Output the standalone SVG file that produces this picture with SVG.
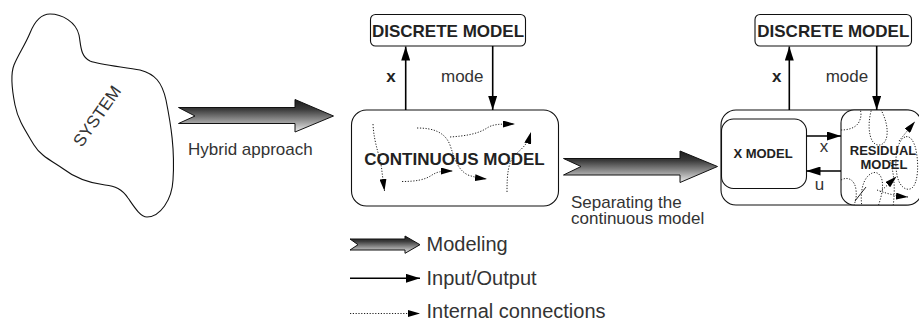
<svg xmlns="http://www.w3.org/2000/svg" width="919" height="322" viewBox="0 0 919 322">
  <style>
    .box { fill: #fff; stroke: #111; stroke-width: 1.1; }
    .lbl { font-family: "Liberation Sans", Arial, sans-serif; fill: #333; }
    .bold { font-family: "Liberation Sans", Arial, sans-serif; font-weight: bold; fill: #222; }
    .io { fill: none; stroke: #000; stroke-width: 1.6; }
    .dot { fill: none; stroke: #222; stroke-width: 1; stroke-dasharray: 1.2 1.6; }
    .fat { fill: url(#grey); stroke: #111; stroke-width: 1; }
  </style>
  <defs>
    <linearGradient id="grey" x1="0" y1="0" x2="0" y2="1">
      <stop offset="0" stop-color="#1c1c1c"/>
      <stop offset="0.3" stop-color="#3a3a3a"/>
      <stop offset="1" stop-color="#ececec"/>
    </linearGradient>
    <marker id="head" markerUnits="userSpaceOnUse" markerWidth="14" markerHeight="9" refX="14" refY="4.5" orient="auto">
      <path d="M0,0 L14,4.5 L0,9 Z" fill="#000"/>
    </marker>
    <marker id="dhead" markerUnits="userSpaceOnUse" markerWidth="12" markerHeight="7" refX="12" refY="3.5" orient="auto">
      <path d="M0,0 L12,3.5 L0,7 Z" fill="#000"/>
    </marker>
    <clipPath id="resClip">
      <rect x="841" y="110" width="80" height="95" rx="13"/>
    </clipPath>
  </defs>

  <!-- the system blob -->
  <g id="system">
    <path class="box" d="M50,14 C62,14 76,22 79,35 C81,45 80,56 90,61 C100,65 125,67 140,70 C155,74 162,82 166,100 C171,125 175,150 173,180 C172,200 160,217 147,217 C140,217 133,205 128,198 C122,189 115,186 105,185 C88,183 75,178 62,168 C50,160 40,155 34,145 C25,130 18,120 15,105 C12,90 10,75 14,65 C18,55 25,45 30,33 C34,23 40,14 50,14 Z"/>
    <text class="lbl" font-size="17" text-anchor="middle" transform="translate(97,116) rotate(-55)" y="6">SYSTEM</text>
  </g>

  <!-- modelling step: hybrid approach -->
  <g id="step-hybrid">
    <path class="fat" d="M178.5,107.5 L295,107.5 L295,99.5 L333.5,116 L295,132 L295,123.5 L178.5,123.5 L195,116 Z"/>
    <text class="lbl" x="188" y="155" font-size="17">Hybrid approach</text>
  </g>

  <g id="discrete-1">
    <rect class="box" x="370.5" y="14.5" width="155" height="31.5" rx="5"/>
    <text class="bold" x="448" y="36.5" font-size="17" text-anchor="middle">DISCRETE MODEL</text>
  </g>

  <g id="continuous">
    <rect class="box" x="351.5" y="110" width="207" height="96" rx="15"/>
    <text class="bold" x="454.5" y="165" font-size="17" text-anchor="middle">CONTINUOUS MODEL</text>
    <!-- internal connections -->
    <path class="dot" marker-end="url(#dhead)" d="M373,124 C374,145 381,158 382,172 L384.5,191"/>
    <path class="dot" marker-end="url(#dhead)" d="M402,181.5 C415,181.5 425,180 432,175 C437,172 440,171 453,171"/>
    <path class="dot" marker-end="url(#dhead)" d="M417,128 C433,128 445,132 450,145 C455,160 458,170 468,175 C474,177 478,178 487,179"/>
    <path class="dot" marker-end="url(#dhead)" d="M450,137 C465,136 478,134 487,128 C493,124 500,124 515,124"/>
    <path class="dot" marker-end="url(#dhead)" d="M507,192 C507,175 508,162 515,155 C522,148 527,146 531,132"/>
  </g>

  <!-- modelling step: separating the continuous model -->
  <g id="step-separate">
    <path class="fat" d="M563.5,158.5 L680,158.5 L680,151 L717.5,166.5 L680,182.5 L680,175 L563.5,175 L581,166.5 Z"/>
    <text class="lbl" font-size="17"><tspan x="571" y="207.5">Separating the</tspan><tspan x="571" y="224">continuous model</tspan></text>
  </g>

  <g id="discrete-2">
    <rect class="box" x="755" y="14.5" width="156.5" height="31.5" rx="5"/>
    <text class="bold" x="833.3" y="36.5" font-size="17" text-anchor="middle">DISCRETE MODEL</text>
  </g>

  <g id="split-continuous">
    <rect class="box" x="721" y="110" width="200" height="95" rx="15"/>
  </g>

  <g id="x-model">
    <rect class="box" x="721.5" y="119" width="85" height="69.5" rx="12"/>
    <text class="bold" x="763" y="158" font-size="13" text-anchor="middle">X MODEL</text>
  </g>

  <g id="residual">
    <rect class="box" x="841" y="110" width="80" height="95" rx="13"/>
    <g clip-path="url(#resClip)">
      <path class="dot" d="M841,130 C848,130 856,128 859,122 C862,116 861,112 860,109"/>
      <path class="dot" d="M872,108 C868,120 868,135 873,142 C878,148 886,145 887,135 C888,125 884,115 880,108"/>
      <path class="dot" d="M905,137 C897,140 894,160 897,175 C899,186 906,192 912,188 C918,183 919,165 916,150 C914,141 910,135 905,137 Z"/>
      <path class="dot" d="M841,180 C848,176 855,180 856,190 C857,198 855,203 853,207"/>
      <path class="dot" d="M862,207 C860,195 862,182 868,176 C874,170 880,172 882,180 C884,190 880,200 878,207"/>
      <path class="dot" d="M890,160 C893,170 896,185 893,207"/>
      <path class="dot" marker-end="url(#dhead)" d="M899,141 L915,121.5"/>
      <path class="dot" marker-end="url(#dhead)" d="M880,192 L896.5,176.5"/>
      <path class="dot" marker-end="url(#dhead)" d="M877,190 C885,193 895,196 908,197"/>
      <path d="M855,201 L866,187" stroke="#222" stroke-width="1" fill="none"/>
    </g>
    <text class="bold" font-size="13" text-anchor="middle"><tspan x="883" y="155">RESIDUAL</tspan><tspan x="884" y="169">MODEL</tspan></text>
  </g>

  <!-- input/output connectors -->
  <g id="connectors">
    <line class="io" x1="405.7" y1="110" x2="405.7" y2="46.5" marker-end="url(#head)"/>
    <line class="io" x1="492.7" y1="46" x2="492.7" y2="110" marker-end="url(#head)"/>
    <line class="io" x1="789.3" y1="110" x2="789.3" y2="46.5" marker-end="url(#head)"/>
    <line class="io" x1="876.7" y1="46" x2="876.7" y2="110" marker-end="url(#head)"/>
    <line class="io" x1="806.5" y1="136" x2="841" y2="136" marker-end="url(#head)"/>
    <line class="io" x1="841" y1="171" x2="806.5" y2="171" marker-end="url(#head)"/>
    <text class="bold" x="391" y="81.5" font-size="17" text-anchor="middle">x</text>
    <text class="lbl" x="441" y="81.5" font-size="17">mode</text>
    <text class="bold" x="776.7" y="81.5" font-size="17" text-anchor="middle">x</text>
    <text class="lbl" x="825.7" y="81.5" font-size="17">mode</text>
    <text class="lbl" x="824" y="151.5" font-size="17" text-anchor="middle">x</text>
    <text class="lbl" x="819.5" y="190" font-size="17" text-anchor="middle">u</text>
  </g>

  <!-- legend -->
  <g id="legend">
    <path class="fat" d="M350,239 L405,239 L405,236 L420,244.7 L405,253.3 L405,250 L350,250 L358,244.7 Z"/>
    <text class="lbl" x="426.5" y="251" font-size="20">Modeling</text>
    <line class="io" x1="350" y1="278.3" x2="420" y2="278.3" stroke-width="1.4" marker-end="url(#head)"/>
    <text class="lbl" x="426.5" y="285" font-size="20">Input/Output</text>
    <line class="dot" x1="350" y1="313.5" x2="420" y2="313.5" marker-end="url(#dhead)"/>
    <text class="lbl" x="426.5" y="317.5" font-size="20">Internal connections</text>
  </g>
</svg>
